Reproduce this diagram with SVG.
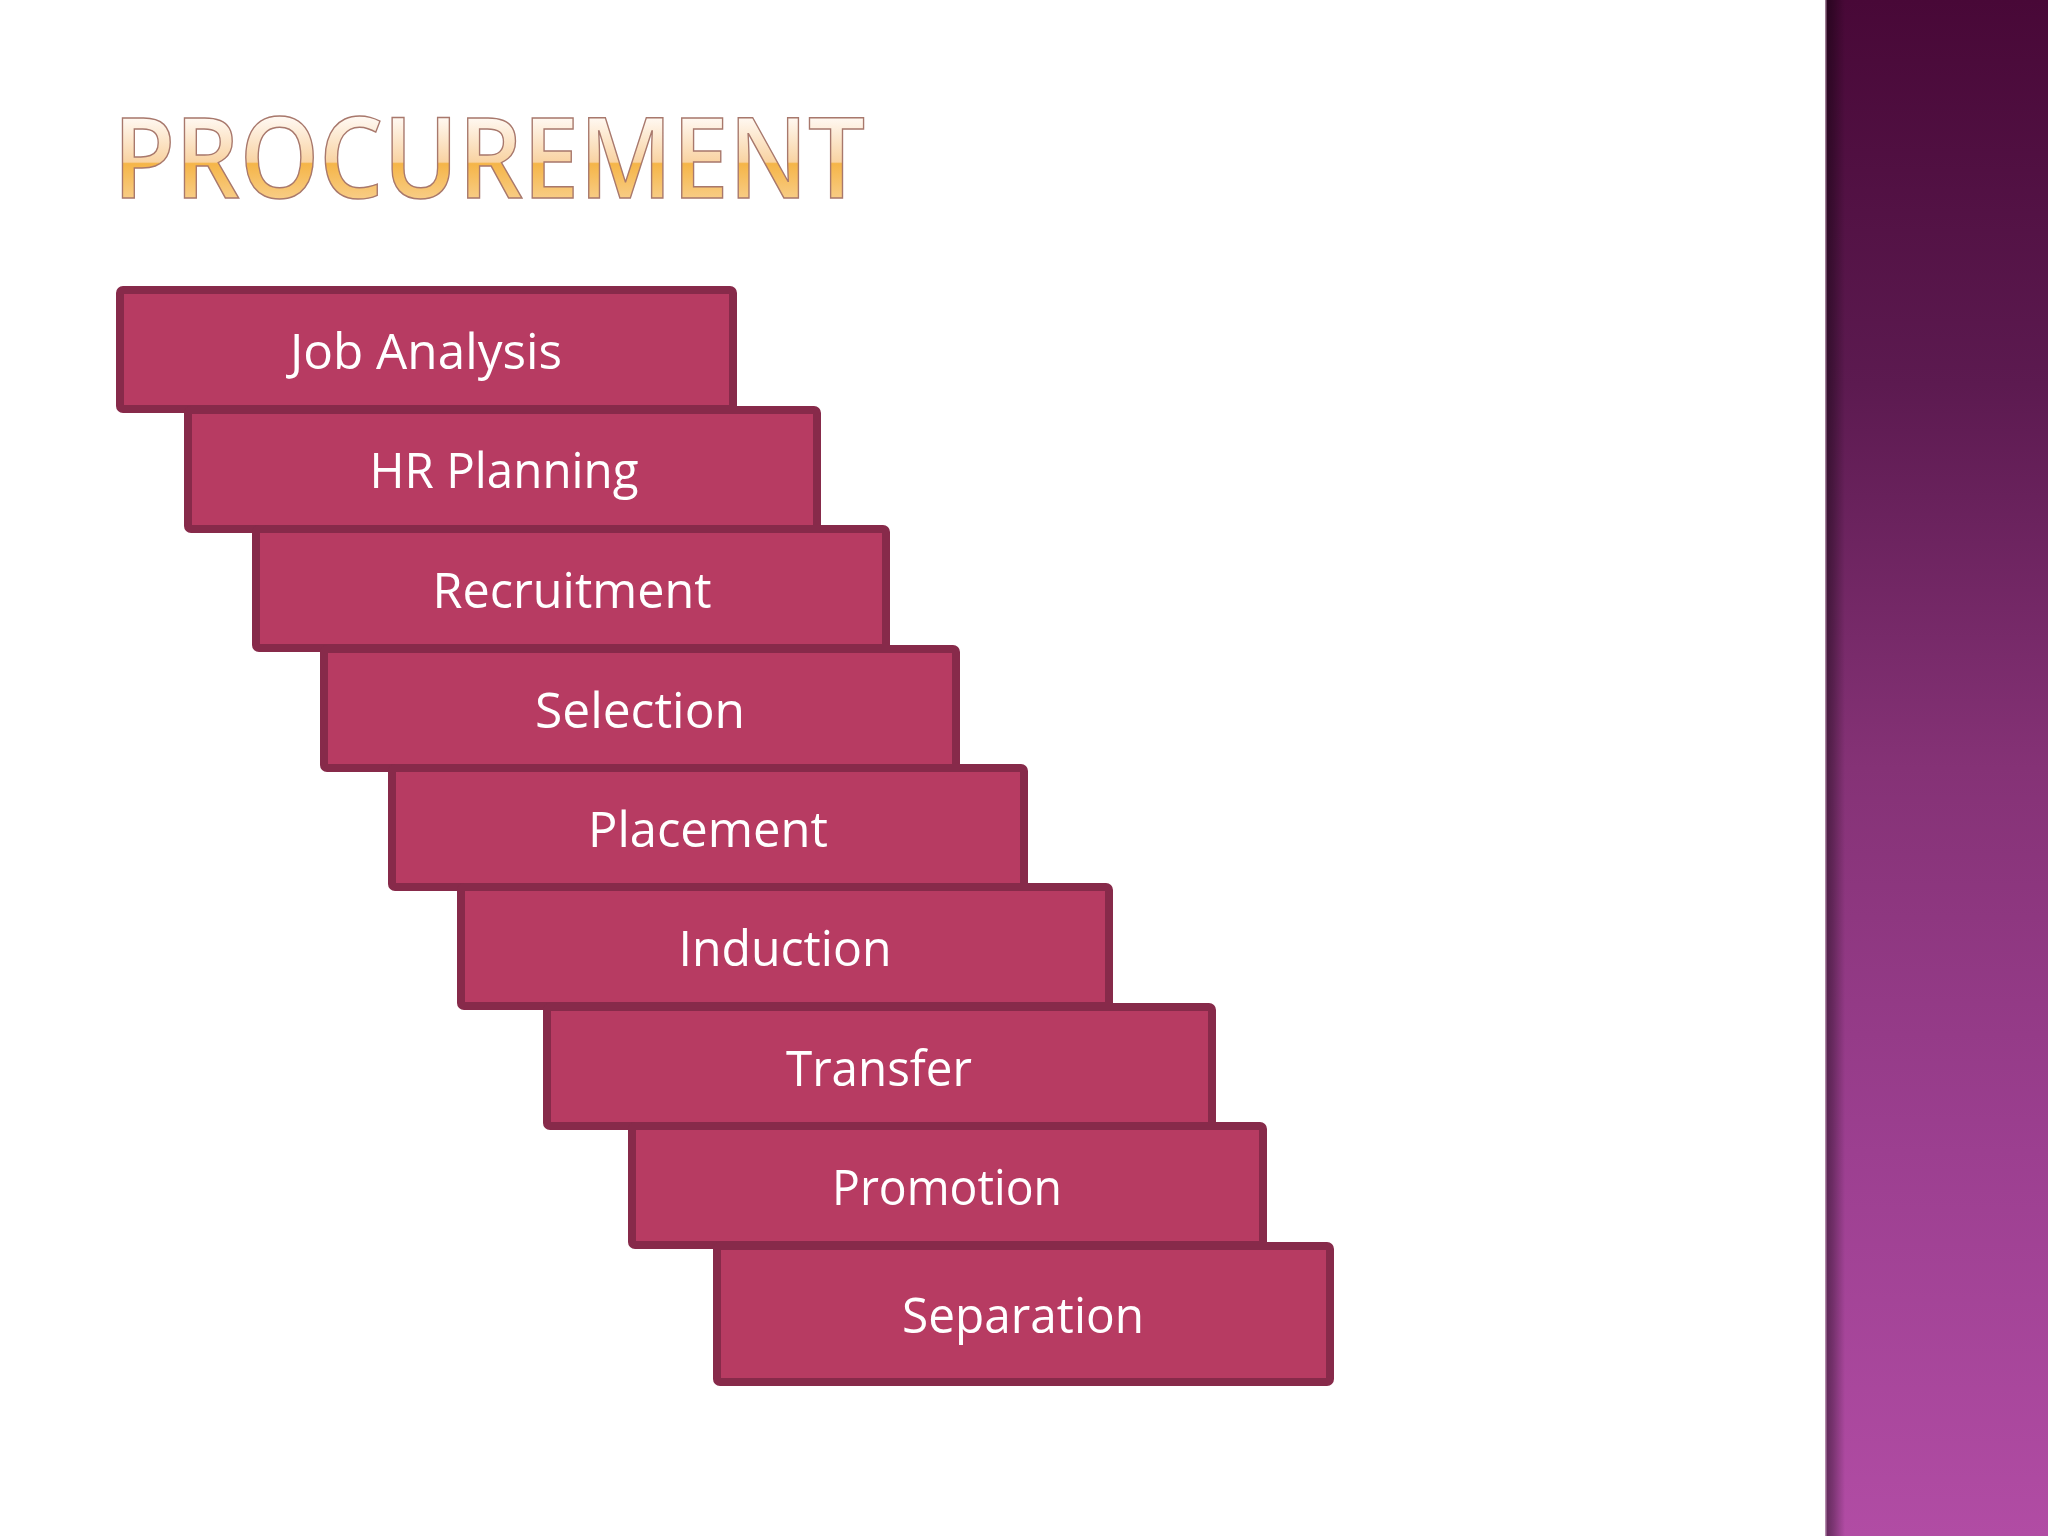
<svg xmlns="http://www.w3.org/2000/svg" width="2048" height="1536" viewBox="0 0 2048 1536">
  <defs>
    <linearGradient id="titleGrad" x1="0" y1="118" x2="0" y2="198" gradientUnits="userSpaceOnUse">
      <stop offset="0" stop-color="#FFF8F1"/>
      <stop offset="0.55" stop-color="#F9D3A2"/>
      <stop offset="0.57" stop-color="#F5B548"/>
      <stop offset="1" stop-color="#F8CC84"/>
    </linearGradient>
    <linearGradient id="barGrad" x1="0" y1="0" x2="0" y2="1">
      <stop offset="0" stop-color="#480837"/>
      <stop offset="0.25" stop-color="#5C1A50"/>
      <stop offset="0.5" stop-color="#853276"/>
      <stop offset="0.75" stop-color="#9C3F90"/>
      <stop offset="1" stop-color="#B14CA4"/>
    </linearGradient>
    <linearGradient id="barShade" x1="1825" y1="0" x2="1845" y2="0" gradientUnits="userSpaceOnUse">
      <stop offset="0" stop-color="#000" stop-opacity="0.45"/>
      <stop offset="0.4" stop-color="#000" stop-opacity="0.3"/>
      <stop offset="1" stop-color="#000" stop-opacity="0"/>
    </linearGradient>
    <style>
      .box { fill: #B73B62; stroke: #872A4A; stroke-width: 8; }
      .lbl { font-family: "Open Sans", "Noto Sans", "Liberation Sans", sans-serif; font-size: 50px; fill: #FFFFFF; text-anchor: middle; }
      .title { font-family: "Open Sans", "Noto Sans", "Liberation Sans", sans-serif; font-size: 112px; font-weight: 600; fill: url(#titleGrad); stroke: #A8786C; stroke-width: 1.5; }
    </style>
  </defs>
  <rect x="0" y="0" width="2048" height="1536" fill="#FFFFFF"/>
  <g id="sidebar">
    <rect x="1825" y="0" width="223" height="1536" fill="url(#barGrad)"/>
    <rect x="1825" y="0" width="20" height="1536" fill="url(#barShade)"/>
    <rect x="1825" y="0" width="1.5" height="1536" fill="#E8C8E0" opacity="0.6"/>
  </g>
  <g id="title">
    <text class="title" x="113" y="198" textLength="752" lengthAdjust="spacingAndGlyphs">PROCUREMENT</text>
  </g>
  <g id="connectors"/>
  <g id="node-job-analysis">
    <rect class="box" x="120" y="290" width="613" height="119" rx="3"/>
    <text class="lbl" x="426" y="369" textLength="272" lengthAdjust="spacingAndGlyphs">Job Analysis</text>
  </g>
  <g id="node-hr-planning">
    <rect class="box" x="188" y="410" width="629" height="119" rx="3"/>
    <text class="lbl" x="504" y="488" textLength="269" lengthAdjust="spacingAndGlyphs">HR Planning</text>
  </g>
  <g id="node-recruitment">
    <rect class="box" x="256" y="529" width="630" height="119" rx="3"/>
    <text class="lbl" x="572" y="608" textLength="279" lengthAdjust="spacingAndGlyphs">Recruitment</text>
  </g>
  <g id="node-selection">
    <rect class="box" x="324" y="649" width="632" height="119" rx="3"/>
    <text class="lbl" x="640" y="728" textLength="210" lengthAdjust="spacingAndGlyphs">Selection</text>
  </g>
  <g id="node-placement">
    <rect class="box" x="392" y="768" width="632" height="119" rx="3"/>
    <text class="lbl" x="708" y="847" textLength="240" lengthAdjust="spacingAndGlyphs">Placement</text>
  </g>
  <g id="node-induction">
    <rect class="box" x="461" y="887" width="648" height="119" rx="3"/>
    <text class="lbl" x="785" y="966" textLength="213" lengthAdjust="spacingAndGlyphs">Induction</text>
  </g>
  <g id="node-transfer">
    <rect class="box" x="547" y="1007" width="665" height="119" rx="3"/>
    <text class="lbl" x="879" y="1086" textLength="186" lengthAdjust="spacingAndGlyphs">Transfer</text>
  </g>
  <g id="node-promotion">
    <rect class="box" x="632" y="1126" width="631" height="119" rx="3"/>
    <text class="lbl" x="947" y="1205" textLength="230" lengthAdjust="spacingAndGlyphs">Promotion</text>
  </g>
  <g id="node-separation">
    <rect class="box" x="717" y="1246" width="613" height="136" rx="3"/>
    <text class="lbl" x="1023" y="1333" textLength="242" lengthAdjust="spacingAndGlyphs">Separation</text>
  </g>
</svg>
